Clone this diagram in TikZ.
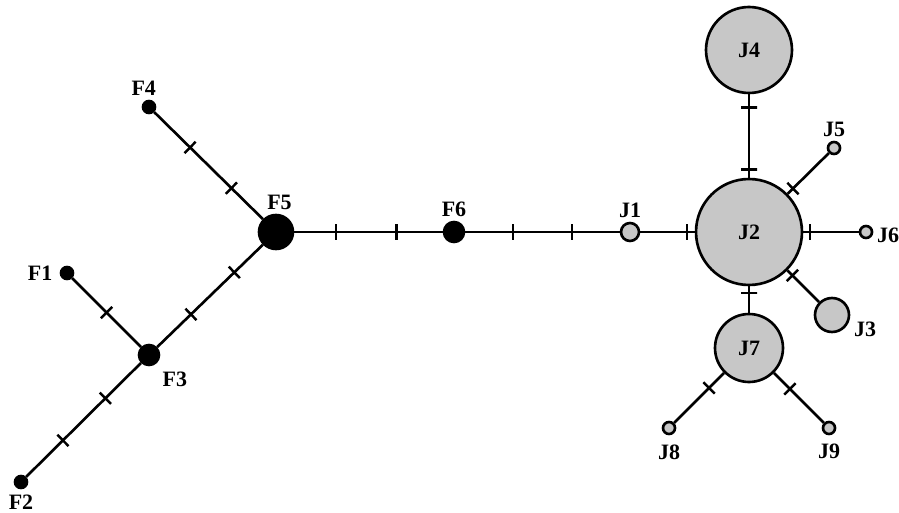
\documentclass[tikz,border=0pt]{standalone}
\usepackage{fontspec}
\setmainfont{Liberation Serif}
\tikzset{
	hap/.style={circle, draw, line width=1.5pt, fill=black!22, inner sep=0pt, font=\fontsize{12.5}{14}\selectfont\bfseries},
	fhap/.style={hap, fill=black},
	lbl/.style={font=\fontsize{12.5}{14}\selectfont\bfseries, inner sep=2pt},
	mut/.style={draw, sloped, rectangle, inner sep=0pt, minimum width=0pt, minimum height=0.32cm, line width=1.4pt},
	link/.style={line width=1.5pt}
}

\begin{document}
\begin{tikzpicture}[x=0.02cm, y=-0.02cm]
			%%%%% START %%%%%
			\useasboundingbox (0, 0) rectangle (899, 513);
			
			\node[fhap, minimum size=0.24cm, label={[lbl, xshift=-3pt]above:F4}] (F4) at (149, 107) {};
			\node[fhap, minimum size=0.68cm, label={[lbl, xshift=2pt]above:F5}] (F5) at (276, 232) {};
			\node[fhap, minimum size=0.24cm, label={[lbl, xshift=-2pt]left:F1}] (F1) at (67, 273) {};
			\node[fhap, minimum size=0.40cm, label={[lbl, xshift=1pt, yshift=-3pt]below right:F3}] (F3) at (149, 355) {};
			\node[fhap, minimum size=0.24cm, label={[lbl, inner sep=0pt, yshift=-3pt]below:F2}] (F2) at (21, 482) {};
			\node[fhap, minimum size=0.40cm, label={[lbl]above:F6}] (F6) at (454, 232) {};
			
			\node[hap, minimum size=0.36cm, label={[lbl]above:J1}] (J1) at (630, 232) {};
			\node[hap, minimum size=2.12cm] (J2) at (749, 232) {J2};
			\node[hap, minimum size=0.68cm, label={[lbl, yshift=-1pt]-4:J3}] (J3) at (832, 315) {};
			\node[hap, minimum size=1.72cm] (J4) at (749, 50) {J4};
			\node[hap, minimum size=0.24cm, label={[lbl]above:J5}] (J5) at (834, 148) {};
			\node[hap, minimum size=0.24cm, label={[lbl, yshift=-2pt]right:J6}] (J6) at (866, 232) {};
			\node[hap, minimum size=1.36cm] (J7) at (749, 348) {J7};
			\node[hap, minimum size=0.24cm, label={[lbl, yshift=-3pt]below:J8}] (J8) at (669, 428) {};
			\node[hap, minimum size=0.24cm, label={[lbl, yshift=-3pt]below:J9}] (J9) at (829, 428) {};
			
			\draw[link] (F4) -- node[mut, pos=0.33]{} node[mut, pos=0.71]{} (F5);
			\draw[link] (F5) -- node[mut, pos=0.27]{} node[mut, pos=0.68]{} (F3);
			\draw[link] (F1) -- node[mut, pos=0.5]{} (F3);
			\draw[link] (F3) -- node[mut, pos=0.31]{} node[mut, pos=0.68]{} (F2);
			
			\draw[link] (F5) -- node[mut, pos=0.28]{} node[mut, pos=0.69]{} (F6);
			\draw[link] (F6) -- node[mut, pos=0.31]{} node[mut, pos=0.69]{} (J1);
			\draw[link] (J1) -- node[mut, pos=0.86]{} (J2);
			
			\draw[link] (J4) -- node[mut, pos=0.16]{} node[mut, pos=0.9]{} (J2);
			\draw[link] (J2) -- node[mut, pos=0.13]{} (J5);
			\draw[link] (J2) -- node[mut, pos=0.12]{} (J6);
			\draw[link] (J2) -- node[mut, pos=0.16]{} (J3);
			\draw[link] (J2) -- node[mut, pos=0.25]{} (J7);
			\draw[link] (J7) -- node[mut, pos=0.3]{} (J8);
			\draw[link] (J7) -- node[mut, pos=0.32]{} (J9);
			
			%%%%% END %%%%%
\end{tikzpicture}
\end{document}
